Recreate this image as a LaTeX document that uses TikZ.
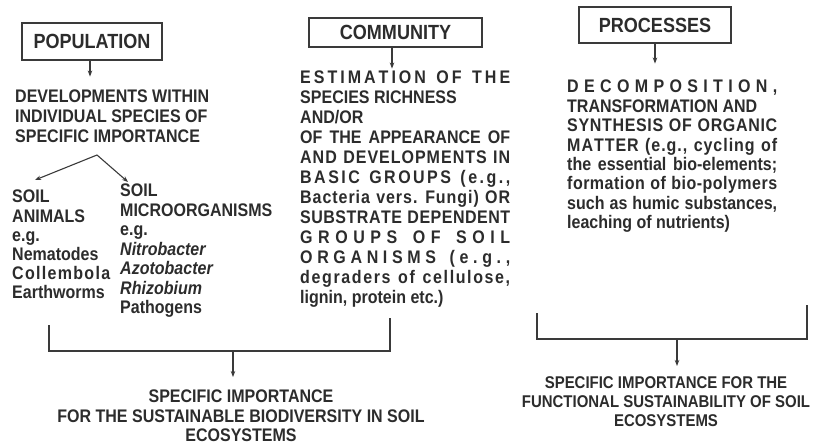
\documentclass[tikz,border=0pt]{standalone}
\usepackage{fontspec}
\setmainfont{Liberation Sans}[FakeStretch=0.88]
\usetikzlibrary{arrows.meta}
\ExplSyntaxOn
\NewDocumentCommand{\spreadto}{m m}{\makebox[#1][s]{\str_map_inline:nn{#2}{##1\hfil}\hfilneg}}
\ExplSyntaxOff
\definecolor{ink}{HTML}{2C2C2C}
\definecolor{wire}{HTML}{3A3A3A}
\begin{document}
\begin{tikzpicture}[x=1pt,y=-1pt,
  box/.style={draw=wire, line width=1.1pt, inner sep=0pt, text=ink, font=\fontsize{20.5}{24}\selectfont\bfseries},
  txt/.style={inner sep=0pt, align=left, text=ink, anchor=north west},
  arr/.style={draw=wire, line width=1.1pt, -{Stealth[length=6pt,width=4.5pt]}},
  wireline/.style={draw=wire, line width=1.1pt}]
\useasboundingbox[fill=white] (0,0) rectangle (816,445);

% ---------- POPULATION ----------
\node[box, minimum width=140pt, minimum height=37pt] (pop) at (92,41.5) {POPULATION};
\node[txt, font=\fontsize{18.2}{20}\selectfont\bfseries] (dev) at (15,90)
  {DEVELOPMENTS WITHIN\\INDIVIDUAL SPECIES OF\\SPECIFIC IMPORTANCE};
\draw[arr] ([xshift=-2pt]pop.south) -- ++(0,16);
\coordinate (split) at (97,155);
\coordinate (animtip) at (35,180);
\coordinate (microtip) at (128,182);
\draw[arr] (split) -- (animtip);
\draw[arr] (split) -- (microtip);
\node[txt, font=\fontsize{18.2}{19.2}\selectfont\bfseries] (anim) at (12,190)
  {SOIL\\ANIMALS\\e.g.\\Nematodes\\\spreadto{98pt}{Collembola}\\Earthworms};
\node[txt, font=\fontsize{18.2}{19.5}\selectfont\bfseries] (micro) at (120,184)
  {SOIL\\MICROORGANISMS\\e.g.\\\textit{Nitrobacter}\\\textit{Azotobacter}\\\textit{Rhizobium}\\Pathogens};

% ---------- COMMUNITY ----------
\node[box, minimum width=173pt, minimum height=29pt] (comm) at (395.5,32.5) {COMMUNITY};
\draw[arr] ([xshift=-3.5pt]comm.south) -- ++(0,21);
\node[txt, font=\fontsize{18.2}{20}\selectfont\bfseries] (estim) at (300,71)
  {\spreadto{210pt}{ESTIMATION OF THE}\\
   SPECIES RICHNESS\\
   AND/OR\\
   \makebox[210pt][s]{OF THE APPEARANCE OF}\\
   \spreadto{210pt}{AND DEVELOPMENTS IN}\\
   \spreadto{210pt}{BASIC GROUPS (e.g.,}\\
   \spreadto{210pt}{Bacteria vers. Fungi) OR}\\
   \spreadto{210pt}{SUBSTRATE DEPENDENT}\\
   \spreadto{210pt}{GROUPS OF SOIL}\\
   \spreadto{210pt}{ORGANISMS (e.g.,}\\
   \spreadto{210pt}{degraders of cellulose,}\\
   lignin, protein etc.)};

% ---------- PROCESSES ----------
\node[box, minimum width=152pt, minimum height=36pt] (proc) at (655,25) {PROCESSES};
\draw[arr] (proc.south) -- ++(0,20);
\node[txt, font=\fontsize{18.2}{19.4}\selectfont\bfseries] (decomp) at (567,80)
  {\spreadto{210pt}{DECOMPOSITION,}\\
   TRANSFORMATION AND\\
   \spreadto{210pt}{SYNTHESIS OF ORGANIC}\\
   \spreadto{210pt}{MATTER (e.g., cycling of}\\
   \makebox[210pt][s]{the essential bio-elements;}\\
   \spreadto{210pt}{formation of bio-polymers}\\
   \makebox[210pt][s]{such as humic substances,}\\
   leaching of nutrients)};

% ---------- left bracket ----------
\coordinate (lbA) at (49,325);
\coordinate (lbB) at (49,351);
\coordinate (lbC) at (390,351);
\coordinate (lbD) at (390,318);
\coordinate (lbM) at (233,351);
\draw[wireline] (lbA) -- (lbB) -- (lbC) -- (lbD);
\draw[arr] (lbM) -- ++(0,26);
\node[inner sep=0pt, align=center, text=ink, anchor=north, font=\fontsize{18.2}{19.5}\selectfont\bfseries] (bot1) at (241,390)
  {SPECIFIC IMPORTANCE\\FOR THE SUSTAINABLE BIODIVERSITY IN SOIL\\ECOSYSTEMS};

% ---------- right bracket ----------
\coordinate (rbA) at (537,313);
\coordinate (rbB) at (537,339);
\coordinate (rbC) at (807,339);
\coordinate (rbD) at (807,305);
\coordinate (rbM) at (677,339);
\draw[wireline] (rbA) -- (rbB) -- (rbC) -- (rbD);
\draw[arr] (rbM) -- ++(0,27);
\node[inner sep=0pt, align=center, text=ink, anchor=north, font=\fontsize{17}{19}\selectfont\bfseries] (bot2) at (666,376)
  {SPECIFIC IMPORTANCE FOR THE\\FUNCTIONAL SUSTAINABILITY OF SOIL\\ECOSYSTEMS};
\end{tikzpicture}
\end{document}
